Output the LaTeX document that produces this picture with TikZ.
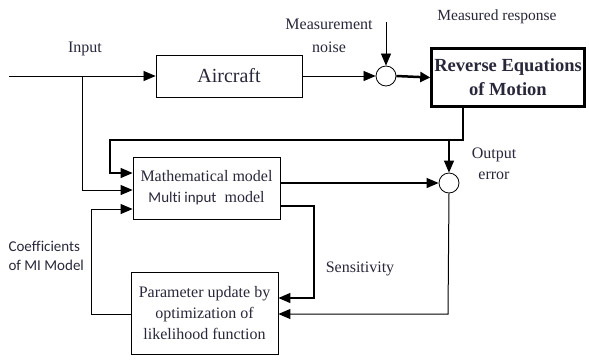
\documentclass[tikz,border=0pt]{standalone}
\usepackage{fontspec}
\setmainfont{Liberation Serif}
\newfontfamily\calibri[Ligatures=NoCommon]{Carlito}
\usetikzlibrary{arrows.meta,positioning}
\definecolor{ink}{RGB}{40, 40, 58}

\begin{document}
\begin{tikzpicture}[
        x=1pt, y=-1pt,
        every node/.style={text=ink, font=\fontsize{16}{21}\selectfont},
        block/.style={draw, line width=0.8pt, inner sep=0pt, align=center},
        summer/.style={draw, line width=0.8pt, circle, minimum size=20pt, inner sep=0pt},
        wire/.style={line width=0.7pt, -{Triangle[length=12pt,width=10pt]}},
        bus/.style={line width=1.3pt, -{Triangle[length=12pt,width=10pt]}}
    ]
    \useasboundingbox (0,0) rectangle (589,360);

    % blocks
    \node[block, minimum width=146pt, minimum height=42pt,
          font=\fontsize{20}{24}\selectfont] (aircraft) at (229,76) {Aircraft};
    \node[block, line width=2.5pt, minimum width=153pt, minimum height=58pt,
          font=\bfseries\fontsize{18.5}{24}\selectfont] (reverse) at (508,77.5)
          {Reverse Equations\\of Motion};
    \node[block, minimum width=147pt, minimum height=62pt] (model) at (206.5,188)
          {Mathematical model\\{\calibri\fontsize{15}{21}\selectfont Multi input}\ \ model};
    \node[block, minimum width=147pt, minimum height=82pt] (param) at (204.5,313)
          {Parameter update by\\optimization of\\likelihood function};
    \node[summer] (sumA) at (386,76) {};
    \node[summer] (sumB) at (449,183) {};

    % labels
    \node (inlbl) at (85,49) {Input};
    \node[align=center, font=\fontsize{16}{23}\selectfont] (noiselbl) at (329,36) {Measurement\\noise};
    \node[font=\fontsize{15.5}{18}\selectfont] (resplbl) at (497,17) {Measured response};
    \node[align=center] (errlbl) at (494,164) {Output\\error};
    \node (senslbl) at (360,269) {Sensitivity};
    \node[align=left, anchor=west, font=\calibri\fontsize{15}{19}\selectfont] (coeflbl) at (5,256)
          {Coefficients\\of MI Model};

    % bends
    \coordinate (in) at (9,76);
    \coordinate (tap) at (82,76);
    \coordinate (noise) at (386,22);
    \coordinate (rv) at (463,140);
    \coordinate (lp) at (110,140);
    \coordinate (sens) at (314,298);
    \coordinate (oe) at (448,314);
    \coordinate (co) at (91,314);

    % connectors
    \draw[wire] (in) -- (aircraft.west);
    \draw[wire, line width=1pt] (tap) |- ([yshift=-2pt]model.west);
    \draw[wire] (aircraft.east) -- (sumA.west);
    \draw[wire] (noise) -- (sumA.north);
    \draw[line width=2.5pt, -{Triangle[length=10pt,width=10pt]}] (sumA.east) -- (reverse.west);
    \draw[bus] (reverse.south -| rv) -- (rv) -- (lp) |- ([yshift=15pt]model.west);
    \draw[bus] (sumB |- rv) -- (sumB.north);
    \draw[bus] (model.east |- sumB) -- (sumB.west);
    \draw[bus] ([yshift=-18pt]model.east) -| (sens) -- (param.east |- sens);
    \draw[wire, line width=1pt] (sumB.south) -- (oe) -- (param.east |- oe);
    \draw[wire, line width=1pt] (param.west |- co) -- (co) |- ([yshift=-21pt]model.west);
\end{tikzpicture}
\end{document}
